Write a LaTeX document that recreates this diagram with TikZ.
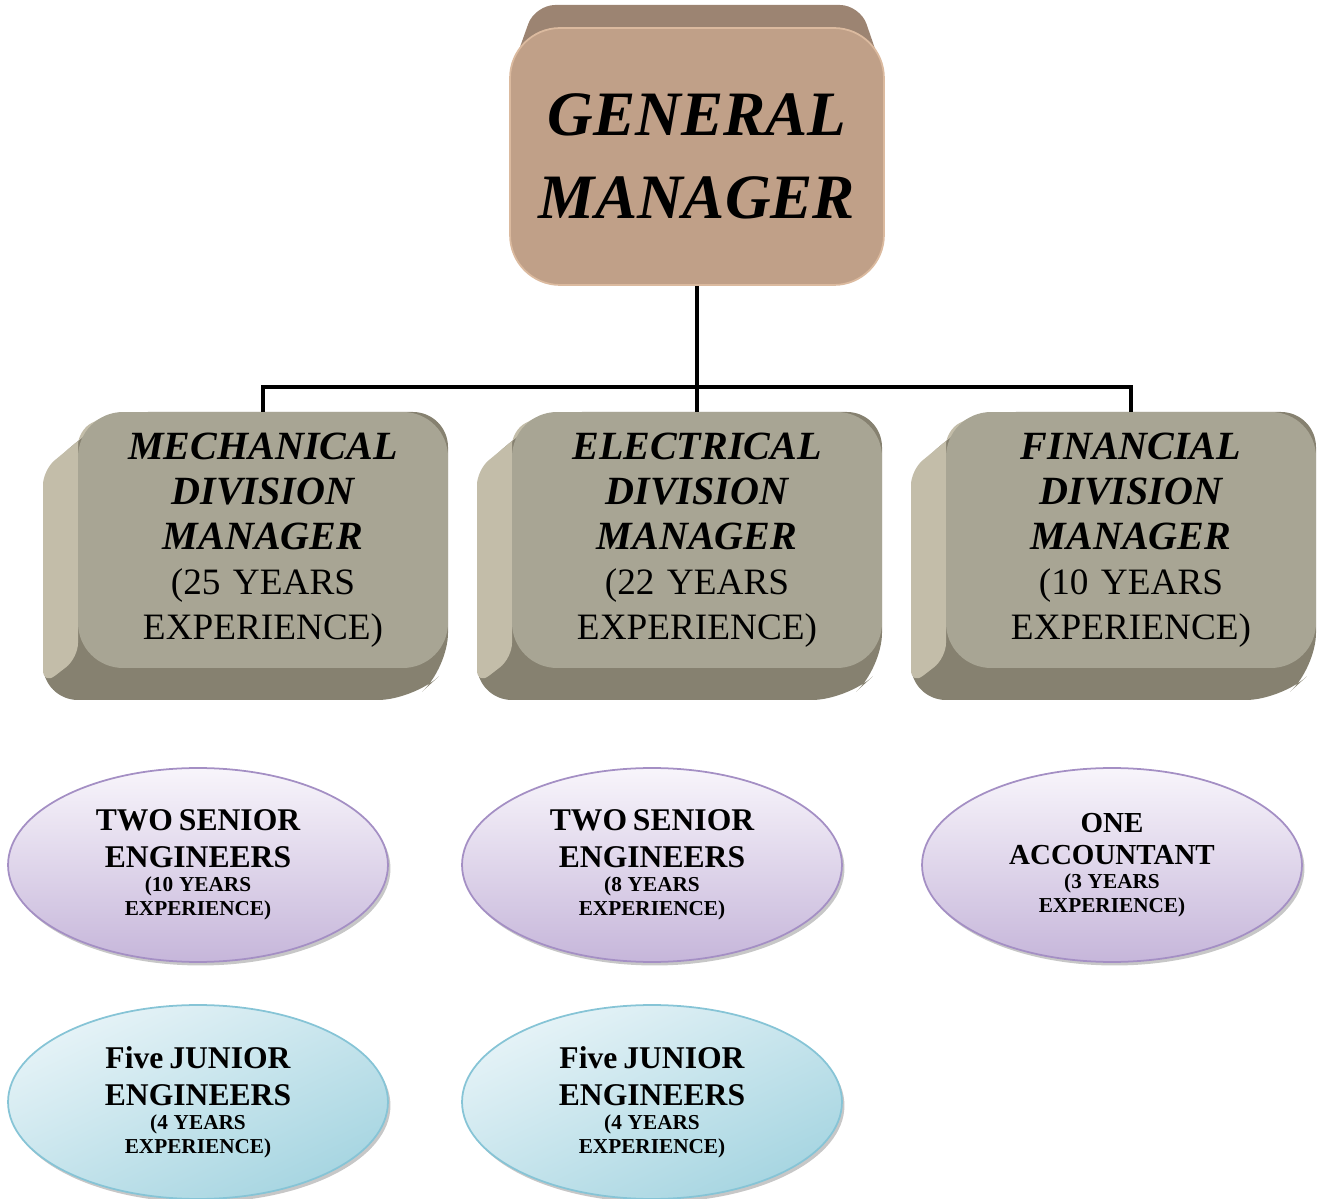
\documentclass[tikz,border=0pt]{standalone}
\usepackage{fontspec}
\setmainfont{Liberation Serif}
\usetikzlibrary{shapes.geometric,backgrounds}

\definecolor{gmface}{HTML}{C0A088}
\definecolor{gmtop}{HTML}{9C8472}
\definecolor{gmedge}{HTML}{DBBA9F}
\definecolor{divface}{HTML}{A8A594}
\definecolor{divside}{HTML}{C3BDA9}
\definecolor{divbottom}{HTML}{868170}
\definecolor{senhi}{HTML}{F8F5FB}
\definecolor{senlo}{HTML}{C6B6DA}
\definecolor{senedge}{HTML}{A48FC4}
\definecolor{junhi}{HTML}{E6F3F7}
\definecolor{junlo}{HTML}{A6D5E1}
\definecolor{junedge}{HTML}{86C4D6}

\newcommand{\dtitle}[1]{{\fontsize{22.8}{25.6}\selectfont\bfseries\itshape #1\par}}
\newcommand{\rolename}[1]{{\fontsize{18}{21}\selectfont #1\par}}
\newcommand{\rolexp}[1]{{\fontsize{12.1}{13.7}\selectfont #1\par}}

\begin{document}
\begin{tikzpicture}[x=0.02cm,y=-0.02cm,
  gmbox/.style={rounded corners=1cm,fill=gmface,draw=gmedge,line width=1pt,
    minimum width=7.48cm,minimum height=5.14cm,align=center,text width=6.6cm,
    font=\fontsize{36}{47}\selectfont\bfseries\itshape},
  divbox/.style={rounded corners=0.9cm,fill=divface,
    minimum width=7.4cm,minimum height=5.12cm,align=center,inner sep=0pt,
    text width=7cm,font=\fontsize{21.2}{25.6}\selectfont},
  staff/.style={ellipse,minimum width=7.6cm,minimum height=3.88cm,inner sep=0pt,
    align=center,text width=4.4cm,line width=1pt,font=\bfseries},
  senior/.style={staff,draw=senedge,top color=senhi,bottom color=senlo},
  junior/.style={staff,draw=junedge,top color=junhi,bottom color=junlo,shading angle=25},
  conn/.style={line width=2.8pt,black}]

\useasboundingbox (0,0) rectangle (1320,1199);

\node[gmbox] (gm) at (697,156.5) {GENERAL\\MANAGER};

\node[divbox] (mech) at (263,540) {\dtitle{MECHANICAL}\dtitle{DIVISION}\dtitle{MANAGER}(25 YEARS\\EXPERIENCE)};
\node[divbox] (elec) at (697,540) {\dtitle{ELECTRICAL}\dtitle{DIVISION}\dtitle{MANAGER}(22 YEARS\\EXPERIENCE)};
\node[divbox] (fin) at (1131,540) {\dtitle{FINANCIAL}\dtitle{DIVISION}\dtitle{MANAGER}(10 YEARS\\EXPERIENCE)};

\node[senior] (sen1) at (198,865) {\rolename{TWO SENIOR\\ENGINEERS}\rolexp{(10 YEARS\\EXPERIENCE)}};
\node[senior] (sen2) at (652,865) {\rolename{TWO SENIOR\\ENGINEERS}\rolexp{(8 YEARS\\EXPERIENCE)}};
\node[senior] (acct) at (1112,865) {{\fontsize{16.5}{18.2}\selectfont ONE\\ACCOUNTANT\par}\rolexp{(3 YEARS\\EXPERIENCE)}};

\node[junior] (jun1) at (198,1102) {\rolename{Five JUNIOR\\ENGINEERS}\rolexp{(4 YEARS\\EXPERIENCE)}};
\node[junior] (jun2) at (652,1102) {\rolename{Five JUNIOR\\ENGINEERS}\rolexp{(4 YEARS\\EXPERIENCE)}};

\coordinate (hub) at (697,387);
\draw[conn] (gm.south) -- (hub);
\draw[conn] (mech.north) |- (hub) -| (fin.north);
\draw[conn] (hub) -- (elec.north);

\scoped[on background layer]
{
  \fill[gmtop,rounded corners=0.4cm] (510,75) -- (535,5) -- (860,5) -- (884,75)
    -- (884,250) -- (510,250) -- cycle;
  \foreach \cx in {263,697,1131} {
    \fill[divbottom,rounded corners=0.7cm] (\cx-150,412) -- (\cx+185,412) -- (\cx+185,668)
      -- (\cx+150,700) -- (\cx-220,700) -- (\cx-220,470) -- cycle;
    \fill[divside,rounded corners=0.3cm] (\cx-150,412) -- (\cx-220,470) -- (\cx-220,685)
      -- (\cx-185,658) -- (\cx-185,430) -- cycle;
  }
  \foreach \n in {sen1,sen2,acct,jun1,jun2}
    \fill[black,opacity=0.22] ([xshift=0.05cm,yshift=-0.07cm]\n.center) ellipse (3.8cm and 1.94cm);
}
\end{tikzpicture}
\end{document}
